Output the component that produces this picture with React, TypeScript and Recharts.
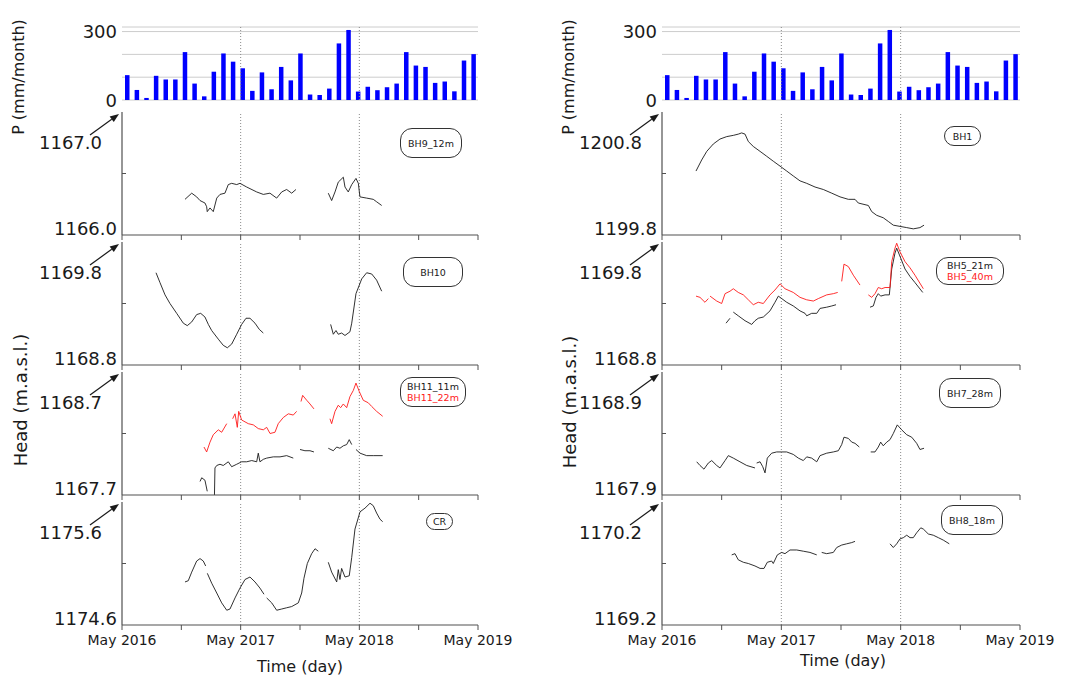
import {
  BarChart,
  Bar,
  LineChart,
  Line,
  XAxis,
  YAxis,
  CartesianGrid,
  ReferenceLine,
} from 'recharts';

// time axis: months since May 2016
const X_TICKS = [0, 6, 12, 18, 24, 30, 36];
const X_LABELS: {[k: number]: string} = {0: 'May 2016', 12: 'May 2017', 24: 'May 2018', 36: 'May 2019'};
const YEAR_LINES = [12, 24];

const PRECIP_MONTHS = [
  '2016-05', '2016-06', '2016-07', '2016-08', '2016-09', '2016-10', '2016-11', '2016-12',
  '2017-01', '2017-02', '2017-03', '2017-04', '2017-05', '2017-06', '2017-07', '2017-08',
  '2017-09', '2017-10', '2017-11', '2017-12', '2018-01', '2018-02', '2018-03', '2018-04',
  '2018-05', '2018-06', '2018-07', '2018-08', '2018-09', '2018-10', '2018-11', '2018-12',
  '2019-01', '2019-02', '2019-03', '2019-04', '2019-05',
];
const PRECIP_MM = [
  109, 44, 9, 106, 90, 90, 210, 72, 16, 124, 204, 168, 139, 40, 121, 47, 145, 86, 204,
  24, 22, 50, 248, 307, 37, 58, 43, 56, 72, 210, 151, 145, 75, 81, 38, 173, 201,
];
const PRECIP_TICKS = [0, 100, 200, 300];

type Pt = [number, number | null];

// left column
const BH9_12M: Pt[] = [
  [6.37, 1166.29], [7.05, 1166.34], [7.55, 1166.31], [7.89, 1166.28], [8.39, 1166.26],
  [8.56, 1166.23], [8.62, 1166.19], [8.9, 1166.22], [9.23, 1166.19], [9.58, 1166.3],
  [9.91, 1166.33], [10.41, 1166.34], [10.75, 1166.41], [11.09, 1166.42], [11.6, 1166.41],
  [11.93, 1166.42], [12.61, 1166.39], [13.62, 1166.35], [14.29, 1166.33], [14.96, 1166.34],
  [15.64, 1166.3], [16.15, 1166.35], [16.65, 1166.37], [17.16, 1166.34], [17.59, 1166.37],
  [19.2, null],
  [20.86, 1166.34], [21.2, 1166.28], [21.54, 1166.35], [21.87, 1166.43], [22.38, 1166.47],
  [22.55, 1166.39], [22.88, 1166.35], [23.23, 1166.41], [23.66, 1166.46], [23.9, 1166.42],
  [24.06, 1166.31], [24.74, 1166.3], [25.41, 1166.29], [25.75, 1166.27], [26.26, 1166.24],
];

const BH10: Pt[] = [
  [3.44, 1169.55], [3.84, 1169.47], [4.35, 1169.37], [4.85, 1169.3], [5.53, 1169.22],
  [6.2, 1169.14], [6.6, 1169.12], [7.05, 1169.15], [7.55, 1169.21], [7.96, 1169.22],
  [8.39, 1169.19], [8.73, 1169.13], [9.07, 1169.08], [9.74, 1169.01], [10.24, 1168.96],
  [10.65, 1168.94], [11.09, 1168.97], [11.6, 1169.05], [12.1, 1169.13], [12.54, 1169.18],
  [12.94, 1169.18], [13.45, 1169.14], [13.88, 1169.09], [14.29, 1169.06],
  [17.5, null],
  [21.1, 1169.13], [21.37, 1169.05], [21.64, 1169.08], [21.87, 1169.05], [22.21, 1169.06],
  [22.55, 1169.04], [23.05, 1169.07], [23.23, 1169.14], [23.66, 1169.38], [24.24, 1169.5],
  [24.74, 1169.55], [25.25, 1169.54], [25.75, 1169.49], [26.26, 1169.4],
];

const BH11_11M: Pt[] = [
  [7.89, 1167.81], [8.06, 1167.84], [8.39, 1167.82], [8.62, 1167.73],
  [8.9, null],
  [9.35, 1167.7], [9.4, 1167.92], [9.58, 1167.94], [9.91, 1167.95], [10.24, 1167.94],
  [10.75, 1167.97], [11.09, 1167.93], [11.6, 1167.95], [12.1, 1167.97], [12.61, 1167.97],
  [13.12, 1167.98], [13.62, 1167.97], [13.78, 1168.04], [13.95, 1167.97], [14.29, 1167.99],
  [14.63, 1168.0], [15.3, 1168.01], [15.98, 1168.01], [16.65, 1168.02], [17.32, 1168.0],
  [17.65, null],
  [18.0, 1168.07], [18.5, 1168.06], [19.01, 1168.06], [19.41, 1168.05],
  [20.1, null],
  [20.86, 1168.08], [21.37, 1168.06], [21.71, 1168.09], [22.04, 1168.08], [22.38, 1168.1],
  [22.72, 1168.11], [22.98, 1168.15], [23.23, 1168.11],
  [23.45, null],
  [23.66, 1168.07], [24.07, 1168.04], [24.74, 1168.02], [25.41, 1168.02], [26.36, 1168.02],
];

const BH11_22M: Pt[] = [
  [8.29, 1168.09], [8.56, 1168.05], [8.9, 1168.13], [9.23, 1168.19], [9.74, 1168.23],
  [10.08, 1168.21], [10.59, 1168.28],
  [10.9, null],
  [11.19, 1168.32], [11.43, 1168.36], [11.66, 1168.25], [11.8, 1168.38], [12.1, 1168.31],
  [12.77, 1168.28], [13.28, 1168.27], [13.78, 1168.24], [14.29, 1168.23], [14.63, 1168.25],
  [14.97, 1168.2], [15.47, 1168.21], [15.8, 1168.28], [16.31, 1168.33], [16.82, 1168.36],
  [17.32, 1168.35], [17.66, 1168.38],
  [17.9, null],
  [18.1, 1168.46], [18.27, 1168.51], [18.68, 1168.47], [19.01, 1168.44], [19.41, 1168.4],
  [20.3, null],
  [21.03, 1168.32], [21.2, 1168.28], [21.54, 1168.38], [21.87, 1168.43], [22.11, 1168.41],
  [22.38, 1168.44], [22.72, 1168.41], [23.05, 1168.5], [23.39, 1168.55], [23.66, 1168.61],
  [24.0, 1168.54], [24.4, 1168.47], [24.9, 1168.45], [25.25, 1168.42], [25.75, 1168.38],
  [26.36, 1168.34],
];

const CR: Pt[] = [
  [6.37, 1174.95], [6.7, 1174.96], [7.05, 1175.03], [7.55, 1175.12], [7.89, 1175.14],
  [8.22, 1175.12], [8.46, 1175.08],
  [8.55, null],
  [8.63, 1175.02], [9.07, 1174.94], [9.58, 1174.86], [10.08, 1174.78], [10.59, 1174.72],
  [10.92, 1174.73], [11.43, 1174.82], [11.93, 1174.9], [12.44, 1174.97], [12.94, 1174.99],
  [13.45, 1174.95], [13.95, 1174.9], [14.36, 1174.85],
  [14.5, null],
  [14.63, 1174.82], [15.14, 1174.78], [15.64, 1174.72], [16.15, 1174.73], [16.65, 1174.74],
  [17.16, 1174.75], [17.83, 1174.78], [18.17, 1174.86], [18.4, 1174.98], [18.74, 1175.1],
  [19.18, 1175.18], [19.52, 1175.22], [19.85, 1175.2],
  [20.4, null],
  [20.86, 1175.11], [21.2, 1175.03], [21.71, 1174.95], [21.87, 1175.05], [22.04, 1174.97],
  [22.21, 1175.06], [22.55, 1174.99], [22.98, 1175.0], [23.23, 1175.15], [23.56, 1175.38],
  [24.07, 1175.52], [24.57, 1175.55], [25.08, 1175.59], [25.41, 1175.57], [25.75, 1175.51],
  [26.09, 1175.46], [26.36, 1175.44],
];

// right column
const BH1: Pt[] = [
  [3.42, 1200.32], [3.99, 1200.41], [4.5, 1200.48], [5.16, 1200.54], [5.83, 1200.58],
  [6.51, 1200.6], [7.17, 1200.61], [7.67, 1200.62], [8.01, 1200.63], [8.35, 1200.62],
  [8.68, 1200.56], [9.18, 1200.52], [9.86, 1200.48], [10.53, 1200.44], [11.19, 1200.4],
  [11.87, 1200.36], [12.54, 1200.32], [13.2, 1200.28], [13.88, 1200.24], [14.55, 1200.22],
  [15.39, 1200.19], [16.22, 1200.17], [17.07, 1200.14], [17.9, 1200.11], [18.74, 1200.09],
  [19.41, 1200.09], [19.74, 1200.06], [20.75, 1200.04], [21.09, 1199.99], [21.59, 1199.96],
  [22.25, 1199.94], [22.76, 1199.91], [23.26, 1199.88], [23.93, 1199.87], [24.61, 1199.86],
  [25.27, 1199.85], [25.94, 1199.86], [26.35, 1199.88],
];

const BH5_21M: Pt[] = [
  [6.44, 1169.14], [6.84, 1169.18],
  [7.0, null],
  [7.17, 1169.23], [7.67, 1169.2], [8.35, 1169.16], [9.02, 1169.13], [9.35, 1169.16],
  [9.68, 1169.18], [10.19, 1169.19], [10.86, 1169.24], [11.36, 1169.31], [11.7, 1169.36],
  [12.04, 1169.34], [12.54, 1169.31], [13.2, 1169.28], [13.88, 1169.24], [14.38, 1169.22],
  [14.55, 1169.2], [15.05, 1169.22], [15.56, 1169.22], [15.89, 1169.26], [16.56, 1169.27],
  [17.07, 1169.28], [17.5, 1169.29],
  [19.0, null],
  [20.92, 1169.27], [21.25, 1169.28], [21.52, 1169.35], [21.75, 1169.38], [21.99, 1169.36],
  [22.43, 1169.37], [22.86, 1169.37], [23.1, 1169.58], [23.43, 1169.71], [23.6, 1169.75],
  [24.0, 1169.67], [24.44, 1169.58], [24.94, 1169.52], [25.44, 1169.47], [26.22, 1169.39],
];

const BH5_40M: Pt[] = [
  [3.42, 1169.36], [3.82, 1169.35], [4.32, 1169.31], [4.66, 1169.34],
  [4.75, null],
  [4.83, 1169.36], [5.5, 1169.32], [6.0, 1169.3], [6.34, 1169.38], [6.84, 1169.4],
  [7.17, 1169.42], [7.67, 1169.39], [8.18, 1169.37], [8.68, 1169.33], [9.18, 1169.29],
  [9.68, 1169.31], [10.19, 1169.3], [10.86, 1169.37], [11.36, 1169.41], [11.87, 1169.46],
  [12.37, 1169.42], [13.2, 1169.39], [13.88, 1169.35], [14.55, 1169.33], [15.22, 1169.32],
  [15.72, 1169.34], [16.56, 1169.37], [17.23, 1169.38], [17.67, 1169.39],
  [17.85, null],
  [18.07, 1169.48], [18.3, 1169.62], [18.74, 1169.6], [19.24, 1169.53], [19.91, 1169.45],
  [20.3, null],
  [20.75, 1169.37], [21.09, 1169.35], [21.42, 1169.38], [21.75, 1169.43], [22.09, 1169.42],
  [22.43, 1169.43], [22.93, 1169.43], [23.1, 1169.64], [23.43, 1169.75], [23.6, 1169.79],
  [23.93, 1169.72], [24.44, 1169.64], [24.94, 1169.59], [25.44, 1169.53], [26.28, 1169.42],
];

const BH7_28M: Pt[] = [
  [3.49, 1168.17], [3.82, 1168.14], [4.22, 1168.11], [4.66, 1168.16], [5.0, 1168.18],
  [5.5, 1168.14], [5.83, 1168.12], [6.34, 1168.18], [6.67, 1168.22], [7.17, 1168.2],
  [7.84, 1168.17], [8.52, 1168.14], [9.35, 1168.12],
  [9.45, null],
  [9.52, 1168.16], [9.86, 1168.17], [10.13, 1168.13], [10.36, 1168.08], [10.59, 1168.2],
  [11.03, 1168.24], [11.53, 1168.25], [12.04, 1168.25], [12.54, 1168.25], [13.2, 1168.23],
  [13.71, 1168.2], [14.21, 1168.18], [14.55, 1168.21], [15.05, 1168.2], [15.56, 1168.17],
  [15.89, 1168.22], [16.56, 1168.24], [17.23, 1168.25], [17.73, 1168.26], [18.07, 1168.31],
  [18.3, 1168.37], [18.74, 1168.36], [19.08, 1168.33], [19.41, 1168.32], [19.84, 1168.29],
  [20.5, null],
  [20.99, 1168.25], [21.42, 1168.25], [21.75, 1168.29], [21.99, 1168.33], [22.25, 1168.3],
  [22.6, 1168.33], [22.93, 1168.35], [23.26, 1168.4], [23.66, 1168.47], [24.1, 1168.43],
  [24.61, 1168.39], [25.11, 1168.37], [25.61, 1168.32], [25.94, 1168.27], [26.35, 1168.28],
];

const BH8_18M: Pt[] = [
  [7.01, 1169.77], [7.34, 1169.78], [7.67, 1169.73], [8.18, 1169.71], [8.68, 1169.7],
  [9.35, 1169.68], [9.86, 1169.66], [10.26, 1169.66], [10.59, 1169.71], [11.03, 1169.72],
  [11.19, 1169.7], [11.6, 1169.77], [12.04, 1169.79], [12.37, 1169.78], [12.87, 1169.81],
  [13.55, 1169.81], [14.21, 1169.8], [14.88, 1169.79], [15.56, 1169.77],
  [15.8, null],
  [16.06, 1169.79], [16.56, 1169.78], [17.23, 1169.79], [17.57, 1169.83], [18.07, 1169.85],
  [18.57, 1169.86], [19.08, 1169.87], [19.41, 1169.88],
  [21.0, null],
  [22.93, 1169.86], [23.26, 1169.83], [23.6, 1169.86], [23.93, 1169.9], [24.27, 1169.91],
  [24.61, 1169.93], [24.94, 1169.91], [25.27, 1169.91], [25.61, 1169.95], [26.02, 1169.99],
  [26.28, 1169.98], [26.78, 1169.94], [27.28, 1169.93], [27.79, 1169.91], [28.29, 1169.89],
  [28.89, 1169.86],
];

const FONT = '"DejaVu Sans", Verdana, sans-serif';
const AXIS = '#505050';
const DOT = '#8a8a8a';
const INK = '#1a1a1a';
const RED = '#ff1a1a';
const AXIS_X = 122; // plot left inside each chart
const PANEL_H = 123;
const PANEL_TOPS = [112, 242, 372, 502];
const GAPS = [12, 7, 7, 7];

const PRECIP_ROWS = PRECIP_MONTHS.map((month, i) => ({month, t: i, p: PRECIP_MM[i]}));
const toRows = (pts: Pt[]) => pts.map(([t, v]) => ({t, v}));

const emptyTick = () => <g />;

const precipTick = (props: any) => {
  const {y, payload} = props;
  if (payload.value !== 0 && payload.value !== 300) return <g />;
  return (
    <text x={AXIS_X - 5} y={y} textAnchor="end" dominantBaseline="central" fontSize={18} fill={INK}>
      {payload.value}
    </text>
  );
};

const headTick = (lo: number, hi: number) => (props: any) => {
  const {y, payload} = props;
  const v = payload.value as number;
  if (Math.abs(v - hi) < 1e-6) {
    const hx = AXIS_X - 3;
    const hy = y + 2;
    const tx = AXIS_X - 32;
    const ty = y + 23;
    const L = Math.hypot(hx - tx, hy - ty);
    const ux = (hx - tx) / L;
    const uy = (hy - ty) / L;
    const bx = hx - 9 * ux;
    const by = hy - 9 * uy;
    const pts = `${hx},${hy} ${bx - 3.5 * uy},${by + 3.5 * ux} ${bx + 3.5 * uy},${by - 3.5 * ux}`;
    return (
      <g>
        <line x1={tx} y1={ty} x2={bx} y2={by} stroke={INK} strokeWidth={1.2} />
        <polygon points={pts} fill={INK} />
        <text x={AXIS_X - 20} y={y + 30} textAnchor="end" dominantBaseline="central" fontSize={18} fill={INK}>
          {hi.toFixed(1)}
        </text>
      </g>
    );
  }
  if (Math.abs(v - lo) < 1e-6) {
    return (
      <text x={AXIS_X - 5} y={y - 7} textAnchor="end" dominantBaseline="central" fontSize={18} fill={INK}>
        {lo.toFixed(1)}
      </text>
    );
  }
  return <line x1={AXIS_X} x2={AXIS_X + 4} y1={y} y2={y} stroke={AXIS} />;
};

const timeTick = (props: any) => {
  const {x, y, payload} = props;
  const label = X_LABELS[payload.value];
  if (!label) return <g />;
  return (
    <text x={x} y={y + 8} textAnchor="middle" dominantBaseline="central" fontSize={14} fill={INK}>
      {label}
    </text>
  );
};

type Series = {name: string; pts: Pt[]; color: string};

type Col = {left: number; width: number; right: number};
const COLS: Col[] = [
  {left: 0, width: 540, right: 62},
  {left: 540, width: 537, right: 57},
];

function PrecipChart({col}: {col: Col}) {
  return (
    <div style={{position: 'absolute', left: col.left, top: 0}}>
      <BarChart
        width={col.width}
        height={110}
        data={PRECIP_ROWS}
        margin={{top: 27, right: col.right, bottom: 0, left: 62}}>
        <CartesianGrid vertical={false} stroke="#cccccc" />
        <XAxis dataKey="month" hide />
        <XAxis
          xAxisId="time"
          dataKey="t"
          type="number"
          domain={[0, 36]}
          ticks={X_TICKS}
          interval={0}
          height={10}
          tickSize={4}
          tick={emptyTick}
          axisLine={{stroke: AXIS, strokeWidth: 1.2}}
          tickLine={{stroke: AXIS}}
        />
        <YAxis
          domain={[0, 320]}
          ticks={PRECIP_TICKS}
          interval={0}
          axisLine={false}
          tickLine={false}
          tick={precipTick}
        />
        {YEAR_LINES.map((m) => (
          <ReferenceLine key={m} xAxisId="time" x={m} stroke={DOT} strokeDasharray="1 2" />
        ))}
        <Bar dataKey="p" fill="#0000ff" barSize={4.5} isAnimationActive={false} />
      </BarChart>
    </div>
  );
}

function HeadPanel({col, idx, lo, hi, series, last}: {col: Col; idx: number; lo: number; hi: number; series: Series[]; last?: boolean}) {
  const axisH = last ? 40 : 6;
  const above = hi + (GAPS[idx] / PANEL_H) * (hi - lo);
  return (
    <div style={{position: 'absolute', left: col.left, top: PANEL_TOPS[idx]}}>
      <LineChart
        width={col.width}
        height={PANEL_H + axisH}
        margin={{top: 0, right: col.right, bottom: 0, left: 62}}>
        <XAxis
          dataKey="t"
          type="number"
          domain={[0, 36]}
          ticks={X_TICKS}
          interval={0}
          allowDataOverflow
          height={axisH}
          tickSize={5}
          tick={last ? timeTick : emptyTick}
          axisLine={{stroke: AXIS, strokeWidth: 1.2}}
          tickLine={{stroke: AXIS}}
        />
        <YAxis
          type="number"
          domain={[lo, hi]}
          ticks={[lo, (lo + hi) / 2, hi]}
          interval={0}
          allowDataOverflow
          tickLine={false}
          axisLine={{stroke: AXIS, strokeWidth: 1.2}}
          tick={headTick(lo, hi)}
        />
        {YEAR_LINES.map((m) => (
          <ReferenceLine
            key={m}
            segment={[{x: m, y: lo}, {x: m, y: above}]}
            ifOverflow="visible"
            stroke={DOT}
            strokeDasharray="1 2"
          />
        ))}
        {series.map((s) => (
          <Line
            key={s.name}
            name={s.name}
            data={toRows(s.pts)}
            dataKey="v"
            stroke={s.color}
            strokeWidth={0.9}
            dot={false}
            connectNulls={false}
            isAnimationActive={false}
          />
        ))}
      </LineChart>
    </div>
  );
}

type Tag = {left: number; top: number; w: number; h: number; lines: {text: string; color: string}[]};
const TAGS: Tag[] = [
  {left: 400, top: 128, w: 62, h: 30, lines: [{text: 'BH9_12m', color: INK}]},
  {left: 403, top: 257, w: 60, h: 30, lines: [{text: 'BH10', color: INK}]},
  {left: 400, top: 377, w: 66, h: 30, lines: [{text: 'BH11_11m', color: INK}, {text: 'BH11_22m', color: RED}]},
  {left: 426, top: 513, w: 27, h: 17, lines: [{text: 'CR', color: INK}]},
  {left: 944, top: 126, w: 37, h: 20, lines: [{text: 'BH1', color: INK}]},
  {left: 936, top: 257, w: 68, h: 28, lines: [{text: 'BH5_21m', color: INK}, {text: 'BH5_40m', color: RED}]},
  {left: 939, top: 378, w: 62, h: 30, lines: [{text: 'BH7_28m', color: INK}]},
  {left: 941, top: 505, w: 62, h: 30, lines: [{text: 'BH8_18m', color: INK}]},
];

export default function App() {
  const [L, R] = COLS;
  return (
    <div style={{position: 'absolute', left: 0, top: 0, width: 1077, height: 678, background: '#fff', fontFamily: FONT}}>
      <PrecipChart col={L} />
      <HeadPanel col={L} idx={0} lo={1166.0} hi={1167.0} series={[{name: 'BH9_12m', pts: BH9_12M, color: INK}]} />
      <HeadPanel col={L} idx={1} lo={1168.8} hi={1169.8} series={[{name: 'BH10', pts: BH10, color: INK}]} />
      <HeadPanel
        col={L}
        idx={2}
        lo={1167.7}
        hi={1168.7}
        series={[
          {name: 'BH11_11m', pts: BH11_11M, color: INK},
          {name: 'BH11_22m', pts: BH11_22M, color: RED},
        ]}
      />
      <HeadPanel col={L} idx={3} lo={1174.6} hi={1175.6} series={[{name: 'CR', pts: CR, color: INK}]} last />

      <PrecipChart col={R} />
      <HeadPanel col={R} idx={0} lo={1199.8} hi={1200.8} series={[{name: 'BH1', pts: BH1, color: INK}]} />
      <HeadPanel
        col={R}
        idx={1}
        lo={1168.8}
        hi={1169.8}
        series={[
          {name: 'BH5_21m', pts: BH5_21M, color: INK},
          {name: 'BH5_40m', pts: BH5_40M, color: RED},
        ]}
      />
      <HeadPanel col={R} idx={2} lo={1167.9} hi={1168.9} series={[{name: 'BH7_28m', pts: BH7_28M, color: INK}]} />
      <HeadPanel col={R} idx={3} lo={1169.2} hi={1170.2} series={[{name: 'BH8_18m', pts: BH8_18M, color: INK}]} last />

      {TAGS.map((t) => (
        <div
          key={t.lines[0].text}
          style={{
            position: 'absolute',
            left: t.left,
            top: t.top,
            width: t.w,
            height: t.h,
            boxSizing: 'border-box',
            border: '1px solid #333',
            borderRadius: Math.min(12, t.h / 2),
            display: 'flex',
            flexDirection: 'column',
            justifyContent: 'center',
            alignItems: 'center',
            fontSize: 9.5,
            lineHeight: '11px',
          }}>
          {t.lines.map((ln) => (
            <span key={ln.text} style={{color: ln.color}}>{ln.text}</span>
          ))}
        </div>
      ))}

      <svg width={1077} height={678} style={{position: 'absolute', left: 0, top: 0, pointerEvents: 'none'}}>
        <g fill={INK} fontFamily={FONT} textAnchor="middle" dominantBaseline="central">
          <text x={18} y={77} fontSize={16} transform="rotate(-90 18 77)">P (mm/month)</text>
          <text x={568} y={77} fontSize={16} transform="rotate(-90 568 77)">P (mm/month)</text>
          <text x={20} y={400} fontSize={18} transform="rotate(-90 20 400)">Head (m.a.s.l.)</text>
          <text x={569} y={402} fontSize={18} transform="rotate(-90 569 402)">Head (m.a.s.l.)</text>
          <text x={300} y={666} fontSize={16}>Time (day)</text>
          <text x={843} y={660} fontSize={16}>Time (day)</text>
        </g>
      </svg>
    </div>
  );
}
